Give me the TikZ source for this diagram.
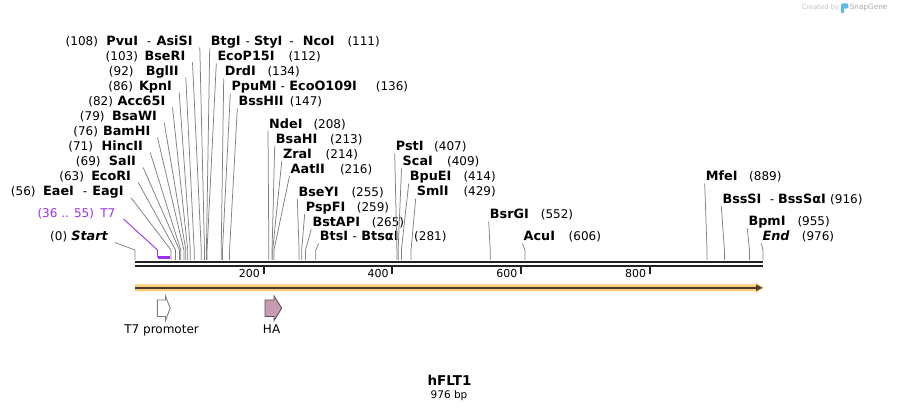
\documentclass[tikz,border=0pt]{standalone}
\usepackage{fontspec}
\setmainfont{DejaVu Sans}
\usetikzlibrary{arrows.meta, positioning, calc}
\definecolor{siteGray}{HTML}{808080}
\definecolor{axisDark}{HTML}{222222}
\definecolor{t7Purple}{HTML}{9B30F0}
\definecolor{barOrange}{HTML}{FCCB78}
\definecolor{barDark}{HTML}{463C32}
\definecolor{haPink}{HTML}{C99AB3}
\definecolor{featEdge}{HTML}{555555}
\definecolor{promEdge}{HTML}{808080}
\definecolor{markLight}{HTML}{C4C4C4}
\definecolor{markGray}{HTML}{A9A9A9}
\definecolor{markBlue}{HTML}{5BBDEB}
% enzyme names, separators and label layouts
\newcommand{\enz}[1]{{\fontsize{12.8}{14}\selectfont\bfseries #1}}
\newcommand{\cutsep}[2]{\hspace{#1pt}-\hspace{#2pt}}
\newcommand{\cutR}[3]{\makebox[#1pt][l]{#2}(#3)}
\newcommand{\cutL}[3]{(#2)\makebox[#1pt][r]{#3}}
\tikzset{
  lblL/.style={anchor=base east, inner sep=0pt, font=\fontsize{12}{14}\selectfont},
  lblR/.style={anchor=base west, inner sep=0pt, font=\fontsize{12}{14}\selectfont},
  siteLine/.style={draw=siteGray, line width=0.75pt},
  t7Line/.style={draw=t7Purple, line width=0.9pt},
  axisLine/.style={draw=axisDark, line width=2.3pt},
  tickLine/.style={draw=axisDark, line width=2pt},
  tickNum/.style={anchor=base east, inner sep=0pt, font=\fontsize{11}{13}\selectfont},
  featLbl/.style={anchor=base, inner sep=0pt, font=\fontsize{12}{14}\selectfont},
  featT7/.style={draw=promEdge, fill=white, line width=0.9pt, line join=miter},
  featHA/.style={draw=featEdge, fill=haPink, line width=0.9pt, line join=miter},
}
\begin{document}
\begin{tikzpicture}[x=1pt, y=-1pt]
  \useasboundingbox (0,0) rectangle (899,411);
  \fill[white] (0,0) rectangle (899,411);
  % cut sites on the map (bp -> x)
  \foreach \nm/\pos in {start/0, eae/56, eco/63, sal/69, hinc/71, bam/76, bsaw/79,
      acc/82, kpn/86, bgl/92, bser/103, pvu/108, btg/111, ecop/112, drd/134,
      ppu/136, bssh/147, nde/208, bsah/213, zra/214, aat/216, bsey/255, psp/259,
      bsta/265, bts/281, pst/407, sca/409, bpu/414, sml/429, bsrg/552, acu/606,
      mfe/889, bsss/916, bpm/955, end/976, t7a/35, t7b/55}
    \coordinate (s-\nm) at ({135+\pos*0.64344},250);
  \coordinate (axTop) at (135,260);
  \coordinate (t7bar) at (135,257.5);

  % labels left of the sites
  \node[lblL] (l-pvu) at (192.8,46) {\cutL{94.6}{108}{\enz{PvuI}\cutsep{8.7}{5.6}\enz{AsiSI}}};
  \node[lblL] (l-bser) at (185.5,61) {\cutL{47.3}{103}{\enz{BseRI}}};
  \node[lblL] (l-bgl) at (178.8,76) {\cutL{45}{92}{\enz{BglII}}};
  \node[lblL] (l-kpn) at (172.2,91) {\cutL{39}{86}{\enz{KpnI}}};
  \node[lblL] (l-acc) at (165.5,106) {\cutL{52.3}{82}{\enz{Acc65I}}};
  \node[lblL] (l-bsaw) at (157.2,121) {\cutL{52.4}{79}{\enz{BsaWI}}};
  \node[lblL] (l-bam) at (150.5,136) {\cutL{52.3}{76}{\enz{BamHI}}};
  \node[lblL] (l-hinc) at (143.2,151) {\cutL{50}{71}{\enz{HincII}}};
  \node[lblL] (l-sal) at (136.2,166) {\cutL{35.4}{69}{\enz{SalI}}};
  \node[lblL] (l-eco) at (131.2,181) {\cutL{47}{63}{\enz{EcoRI}}};
  \node[lblL] (l-eae) at (123.8,196) {\cutL{88}{56}{\enz{EaeI}\cutsep{9}{5}\enz{EagI}}};
  \node[lblL, text=t7Purple] (l-t7) at (115.5,218) {\cutL{21.3}{36 .. 55}{T7}};
  \node[lblL] (l-start) at (108,241) {\cutL{40.6}{0}{\enz{\itshape Start}}};

  % labels right of the sites
  \node[lblR] (r-btg) at (210.7,46) {\cutR{136.6}{\enz{BtgI}\cutsep{5}{4}\enz{StyI}\cutsep{7}{9}\enz{NcoI}}{111}};
  \node[lblR] (r-ecop) at (217.3,61) {\cutR{71}{\enz{EcoP15I}}{112}};
  \node[lblR] (r-drd) at (224.7,76) {\cutR{42.6}{\enz{DrdI}}{134}};
  \node[lblR] (r-ppu) at (231.3,91) {\cutR{144.4}{\enz{PpuMI}\cutsep{4}{4.5}\enz{EcoO109I}}{136}};
  \node[lblR] (r-bssh) at (238.3,106) {\cutR{51.4}{\enz{BssHII}}{147}};
  \node[lblR] (r-nde) at (269,128.5) {\cutR{44.3}{\enz{NdeI}}{208}};
  \node[lblR] (r-bsah) at (275.7,143.5) {\cutR{54.3}{\enz{BsaHI}}{213}};
  \node[lblR] (r-zra) at (282.8,158.5) {\cutR{42.7}{\enz{ZraI}}{214}};
  \node[lblR] (r-aat) at (290.5,173.5) {\cutR{49.3}{\enz{AatII}}{216}};
  \node[lblR] (r-bsey) at (298.3,196.5) {\cutR{53}{\enz{BseYI}}{255}};
  \node[lblR] (r-psp) at (305.7,211.5) {\cutR{51}{\enz{PspFI}}{259}};
  \node[lblR] (r-bsta) at (312.3,226.5) {\cutR{59.4}{\enz{BstAPI}}{265}};
  \node[lblR] (r-bts) at (319.7,241) {\cutR{94.3}{\enz{BtsI}\cutsep{4.5}{4.5}\enz{BtsαI}}{281}};
  \node[lblR] (r-pst) at (395.7,151) {\cutR{38.3}{\enz{PstI}}{407}};
  \node[lblR] (r-sca) at (402.5,166) {\cutR{44.4}{\enz{ScaI}}{409}};
  \node[lblR] (r-bpu) at (409.7,181) {\cutR{53.6}{\enz{BpuEI}}{414}};
  \node[lblR] (r-sml) at (416.7,196) {\cutR{46.6}{\enz{SmlI}}{429}};
  \node[lblR] (r-bsrg) at (489.7,219) {\cutR{51}{\enz{BsrGI}}{552}};
  \node[lblR] (r-acu) at (523.5,241) {\cutR{45}{\enz{AcuI}}{606}};
  \node[lblR] (r-mfe) at (705.7,181) {\cutR{43.3}{\enz{MfeI}}{889}};
  \node[lblR] (r-bsss) at (722.3,203.5) {\cutR{107.7}{\enz{BssSI}\cutsep{8.3}{4}\enz{BssSαI}}{916}};
  \node[lblR] (r-bpm) at (748.3,226) {\cutR{49}{\enz{BpmI}}{955}};
  \node[lblR] (r-end) at (762.3,241) {\cutR{39.4}{\enz{\itshape End}}{976}};

  % leader lines
  \foreach \nm in {start,eae,eco,sal,hinc,bam,bsaw,acc,kpn,bgl,bser,pvu}
    \draw[siteLine] ([xshift=7pt,yshift=-1.5pt]l-\nm.base east) -- (s-\nm) -- (s-\nm |- axTop);
  \foreach \nm in {btg,ecop,drd,ppu,bssh,nde,bsah,zra,aat,bsey,psp,bsta,bts,
      pst,sca,bpu,sml,bsrg,acu,mfe,bsss,bpm,end}
    \draw[siteLine] ([xshift=-1pt,yshift=-2.5pt]r-\nm.base west) -- (s-\nm) -- (s-\nm |- axTop);
  \draw[t7Line] ([xshift=8pt,yshift=-1pt]l-t7.base east) -- (s-t7a) -- (s-t7a |- t7bar);
  \draw[t7Line, line width=2.2pt] (s-t7a |- t7bar) -- (s-t7b |- t7bar);

  % sequence
  \draw[axisLine] (135,262.2) -- (763,262.2);
  \draw[axisLine] (135,265.8) -- (763,265.8);
  \foreach \t in {200,400,600,800} {
    \coordinate (tk-\t) at ({135+\t*0.64344},266);
    \draw[tickLine] (tk-\t) -- ++(0,8);
    \node[tickNum] (n-\t) at ([xshift=-3.5pt,yshift=-11.7pt]tk-\t) {\t};
  }

  % full-length bar
  \fill[barOrange] (135,284.3) -- (756,284.3) -- (756,282.5) -- (764,287.8)
    -- (756,293) -- (756,291.2) -- (135,291.2) -- cycle;
  \draw[barDark, line width=2.2pt] (135,287.8) -- (757,287.8);
  \fill[barDark] (756,284.6) -- (762.3,287.8) -- (756,291) -- cycle;

  % features
  \draw[featT7] (157.3,300) -- (165.5,300) -- (165.5,296) -- (170.2,308.2)
    -- (165.5,320.5) -- (165.5,316.5) -- (157.3,316.5) -- cycle;
  \draw[featHA] (265,300) -- (274,300) -- (274,296) -- (281.7,308.2)
    -- (274,320.5) -- (274,316.5) -- (265,316.5) -- cycle;
  \node[featLbl] (f-t7) at (161.6,333.3) {T7 promoter};
  \node[featLbl] (f-ha) at (271.6,333.3) {HA};

  % title
  \node[anchor=base, inner sep=0pt, font=\fontsize{13.5}{16}\selectfont\bfseries] (title) at (449.5,385) {hFLT1};
  \node[anchor=base, inner sep=0pt, font=\fontsize{10.5}{12}\selectfont] (size) at (449,398) {976 bp};

  % watermark
  \node[anchor=base west, inner sep=0pt, text=markLight, font=\fontsize{6.8}{8}\selectfont] (wm-a) at (801.5,9.6) {Created by};
  \fill[markBlue, rounded corners=1.2pt] (841.3,3.3) rectangle (848.3,8.6);
  \fill[markBlue] (841.3,5) rectangle (844.3,12.8);
  \node[anchor=base west, inner sep=0pt, text=markGray, font=\fontsize{7.3}{9}\selectfont] (wm-b) at (849.6,9.8) {SnapGene};
\end{tikzpicture}
\end{document}
